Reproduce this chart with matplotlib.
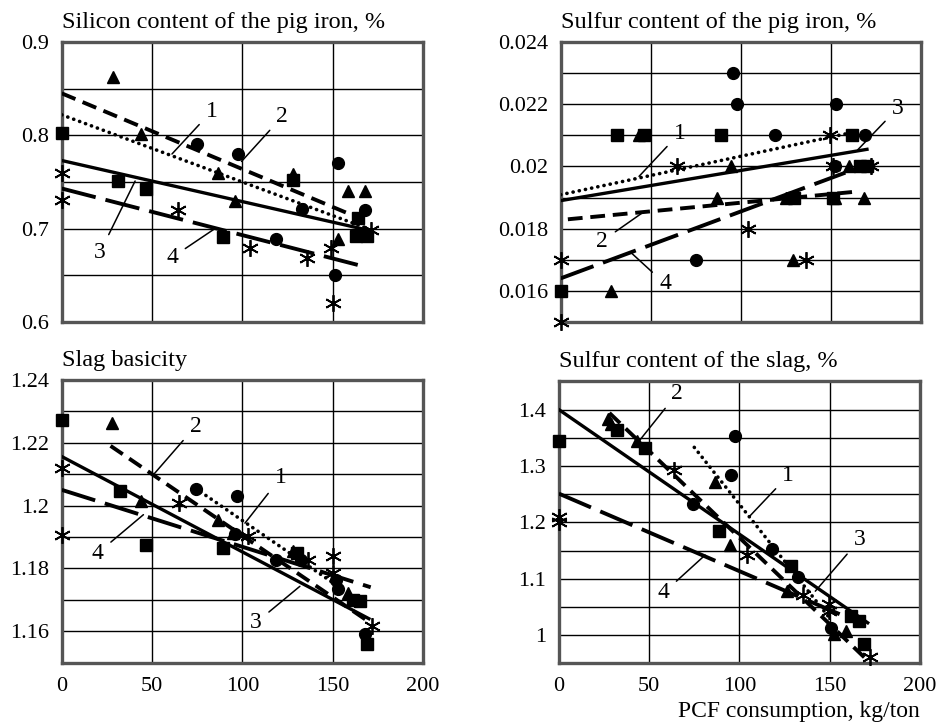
import numpy as np
import matplotlib
matplotlib.use("Agg")
import matplotlib.pyplot as plt
from matplotlib.ticker import MultipleLocator

plt.rcParams['font.family'] = ['Liberation Serif', 'DejaVu Serif']
plt.rcParams['font.size'] = 16

# ---- data (PCF consumption, kg/ton) ----
# panel 1: silicon content of the pig iron, %
si_circ_x = [75, 97.7, 118.5, 133, 153, 151.5, 168]
si_circ_y = [0.791, 0.780, 0.689, 0.721, 0.770, 0.650, 0.720]
si_tri_x = [28.6, 44, 86.6, 96, 128, 153, 158.5, 168]
si_tri_y = [0.862, 0.801, 0.760, 0.730, 0.759, 0.689, 0.740, 0.740]
si_sq_x = [0, 31, 46.5, 89, 128, 164, 163, 169]
si_sq_y = [0.802, 0.751, 0.743, 0.691, 0.752, 0.711, 0.692, 0.692]
si_ast_x = [0, 0, 64.5, 104, 135.5, 149.3, 150, 171.4]
si_ast_y = [0.760, 0.731, 0.720, 0.679, 0.669, 0.679, 0.620, 0.699]
si_trend_x = [[0, 168], [0, 165], [0, 168], [0, 166]]
si_trend_y = [[0.822, 0.701], [0.845, 0.711], [0.773, 0.699], [0.743, 0.660]]

# panel 2: sulfur content of the pig iron, %
sp_circ_x = [95.4, 98, 152.8, 119, 169, 75, 152, 127]
sp_circ_y = [0.0230, 0.0220, 0.0220, 0.0210, 0.0210, 0.0170, 0.0200, 0.0190]
sp_tri_x = [43.5, 94.4, 86.5, 160, 152, 168.5, 128.7, 27.8, 125]
sp_tri_y = [0.021, 0.020, 0.019, 0.020, 0.019, 0.019, 0.017, 0.016, 0.019]
sp_sq_x = [31.5, 46.3, 89, 161.5, 166, 169.8, 0, 129.6, 151.3]
sp_sq_y = [0.021, 0.021, 0.021, 0.021, 0.020, 0.020, 0.016, 0.019, 0.019]
sp_ast_x = [0, 0, 64.8, 104, 136, 149.6, 151, 172]
sp_ast_y = [0.017, 0.015, 0.020, 0.018, 0.017, 0.021, 0.020, 0.020]
sp_trend_x = [[0, 160], [4, 166], [0, 170], [0, 158]]
sp_trend_y = [[0.01909, 0.02107], [0.01830, 0.01920], [0.01890, 0.02055], [0.01640, 0.01980]]

# panel 3: slag basicity
sb_circ_x = [74.3, 97, 96, 118.5, 132.7, 152, 153, 167.7]
sb_circ_y = [1.2052, 1.2029, 1.191, 1.1828, 1.1828, 1.1764, 1.1733, 1.159]
sb_tri_x = [28, 44, 86.6, 95, 128, 158.5]
sb_tri_y = [1.2262, 1.2013, 1.1955, 1.1913, 1.1854, 1.1722]
sb_sq_x = [0, 32, 46.5, 89, 130, 161, 165, 168.7]
sb_sq_y = [1.2273, 1.2045, 1.1875, 1.1865, 1.1850, 1.170, 1.1695, 1.1558]
sb_ast_x = [0, 0, 65, 103, 136.4, 150, 150, 171.8]
sb_ast_y = [1.2119, 1.1907, 1.2008, 1.1902, 1.1828, 1.1838, 1.1785, 1.1616]
sb_trend_x = [[74, 155], [27, 170], [0, 170], [0, 171]]
sb_trend_y = [[1.2055, 1.1735], [1.219, 1.163], [1.2156, 1.1640], [1.2050, 1.1740]]

# panel 4: sulfur content of the slag, %
ss_circ_x = [97.6, 95.5, 74.5, 118, 132.5, 150.6]
ss_circ_y = [1.353, 1.284, 1.233, 1.152, 1.104, 1.012]
ss_tri_x = [27, 29, 43.4, 86.5, 95, 126.6, 152.5, 159]
ss_tri_y = [1.384, 1.375, 1.344, 1.271, 1.16, 1.078, 1.002, 1.008]
ss_sq_x = [0, 32.3, 47.7, 88.7, 128.5, 162, 166, 169]
ss_sq_y = [1.3444, 1.363, 1.3327, 1.185, 1.122, 1.034, 1.025, 0.984]
ss_ast_x = [0, 0, 63.8, 104, 135, 149.7, 149.7, 172]
ss_ast_y = [1.21, 1.20, 1.292, 1.142, 1.072, 1.055, 1.043, 0.961]
ss_trend_x = [[75, 150], [28, 170], [0, 171], [0, 168]]
ss_trend_y = [[1.333, 1.03], [1.394, 0.958], [1.40, 1.022], [1.251, 1.02]]

titles = ["Silicon content of the pig iron, %", "Sulfur content of the pig iron, %",
          "Slag basicity", "Sulfur content of the slag, %"]
x_ticks = [0, 50, 100, 150, 200]

# line styles for trends 1..4 : dotted, short dash, solid, long dash
trend_styles = [(0, (0.05, 1.7)), (0, (3.8, 2.0)), '-', (0, (9, 2.6))]
trend_widths = [2.6, 2.8, 2.4, 2.8]
asterisk = (6, 2, 0)


def draw_panel(ax, pts, trend_x, trend_y, ylim, yminor):
    cx, cy, tx, ty, sx, sy, ax_, ay = pts
    for i, (tx_, ty_) in enumerate(zip(trend_x, trend_y)):
        ax.plot(tx_, ty_, color='black', lw=trend_widths[i], linestyle=trend_styles[i],
                dash_capstyle='round' if i == 0 else 'butt', zorder=3)
    kw = dict(color='black', ls='none', zorder=4, clip_on=False)
    ax.plot(cx, cy, marker='o', ms=8.5, **kw)
    ax.plot(tx, ty, marker='^', ms=9, **kw)
    ax.plot(sx, sy, marker='s', ms=9, **kw)
    ax.plot(ax_, ay, marker=asterisk, ms=12, mew=1.3, **kw)

    ax.set_xlim(0, 200)
    ax.set_ylim(*ylim)
    ax.xaxis.set_major_locator(MultipleLocator(50))
    ax.yaxis.set_minor_locator(MultipleLocator(yminor))
    ax.grid(True, which='both', color='black', lw=1.0)
    ax.set_axisbelow(True)
    ax.tick_params(which='both', length=0, pad=9, labelsize=16)
    for s in ax.spines.values():
        s.set_linewidth(2.4)
        s.set_color('#555555')


def annotate(ax, items):
    for lab, txt, end in items:
        ax.annotate(lab, xy=end, xytext=txt, ha='center', va='center', fontsize=17,
                    arrowprops=dict(arrowstyle='-', lw=1.1, color='black', shrinkA=4, shrinkB=0))


def gfmt(v, digits):
    return ('%.*f' % (digits, v)).rstrip('0').rstrip('.')


fig = plt.figure(figsize=(9.36, 7.25), dpi=100)
ax1 = fig.add_axes([0.066, 0.556, 0.386, 0.386])
ax2 = fig.add_axes([0.599, 0.556, 0.385, 0.386])
ax3 = fig.add_axes([0.066, 0.086, 0.386, 0.390])
ax4 = fig.add_axes([0.597, 0.085, 0.386, 0.389])

draw_panel(ax1, [si_circ_x, si_circ_y, si_tri_x, si_tri_y, si_sq_x, si_sq_y, si_ast_x, si_ast_y],
           si_trend_x, si_trend_y, (0.6, 0.9), 0.05)
draw_panel(ax2, [sp_circ_x, sp_circ_y, sp_tri_x, sp_tri_y, sp_sq_x, sp_sq_y, sp_ast_x, sp_ast_y],
           sp_trend_x, sp_trend_y, (0.015, 0.024), 0.001)
draw_panel(ax3, [sb_circ_x, sb_circ_y, sb_tri_x, sb_tri_y, sb_sq_x, sb_sq_y, sb_ast_x, sb_ast_y],
           sb_trend_x, sb_trend_y, (1.15, 1.24), 0.01)
draw_panel(ax4, [ss_circ_x, ss_circ_y, ss_tri_x, ss_tri_y, ss_sq_x, ss_sq_y, ss_ast_x, ss_ast_y],
           ss_trend_x, ss_trend_y, (0.95, 1.45), 0.05)

ax1.set_yticks([0.6, 0.7, 0.8, 0.9])
ax2.set_yticks([0.016, 0.018, 0.020, 0.022, 0.024])
ax3.set_yticks([1.16, 1.18, 1.20, 1.22, 1.24])
ax4.set_yticks([1.0, 1.1, 1.2, 1.3, 1.4])
for ax, d in ((ax1, 1), (ax2, 3), (ax3, 2), (ax4, 1)):
    ax.yaxis.set_major_formatter(plt.FuncFormatter(lambda v, p, d=d: gfmt(v, d)))

for ax in (ax1, ax2):
    ax.tick_params(axis='x', labelbottom=False)
for ax in (ax3, ax4):
    ax.set_xticks(x_ticks)
    ax.tick_params(axis='x', pad=10)

for ax, t in zip((ax1, ax2, ax3, ax4), titles):
    ax.set_title(t, loc='left', pad=10, fontsize=17.5)

annotate(ax1, [("1", (83, 0.826), (61, 0.780)), ("2", (122, 0.820), (99.5, 0.772)),
               ("3", (21, 0.674), (40.6, 0.751)), ("4", (61, 0.669), (84, 0.699))])
annotate(ax2, [("1", (66, 0.02107), (43.5, 0.01968)), ("2", (23, 0.0176), (45.4, 0.01851)),
               ("3", (187, 0.02187), (164.8, 0.02053)), ("4", (58, 0.01622), (39, 0.01723))])
annotate(ax3, [("2", (74, 1.2252), (50.7, 1.2098)), ("1", (121, 1.2088), (101.4, 1.1944)),
               ("4", (20, 1.1849), (45.2, 1.1971)), ("3", (107.5, 1.1627), (131.8, 1.1743))])
annotate(ax4, [("2", (65.6, 1.429), (44.4, 1.344)), ("1", (127, 1.283), (105.4, 1.21)),
               ("3", (166.4, 1.169), (142, 1.078)), ("4", (58, 1.075), (81, 1.142))])

fig.text(0.983, 0.011, "PCF consumption, kg/ton", ha='right', va='baseline', fontsize=17)

fig.savefig("out.png", dpi=100)
